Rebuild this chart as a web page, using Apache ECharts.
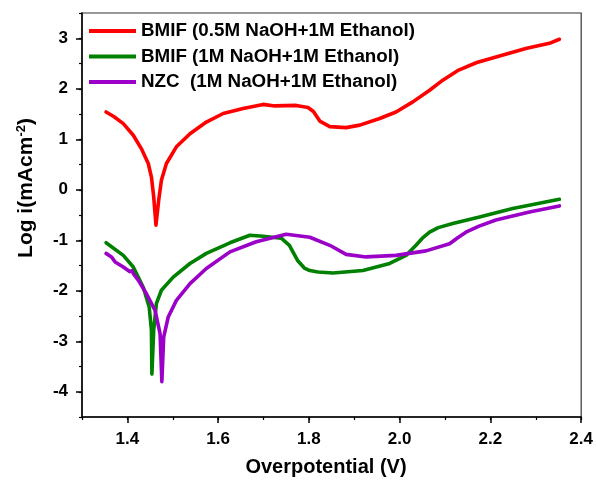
<!DOCTYPE html>
<html>
<head>
<meta charset="utf-8">
<script src="https://cdn.jsdelivr.net/npm/echarts@6/dist/echarts.min.js"></script>
<style>
html,body{margin:0;padding:0;background:#fff;}
#chart{width:596px;height:485px;}
</style>
</head>
<body>
<div id="chart"></div>
<script>
var seriesNames = ['BMIF (0.5M NaOH+1M Ethanol)', 'BMIF (1M NaOH+1M Ethanol)', 'NZC  (1M NaOH+1M Ethanol)'];
var xTickLabels = [1.4, 1.6, 1.8, 2.0, 2.2, 2.4];
var yTickLabels = [-4, -3, -2, -1, 0, 1, 2, 3];

var redX = [1.353,1.37,1.391,1.413,1.431,1.446,1.453,1.458,1.463,1.469,1.475,1.486,1.508,1.538,1.574,1.611,1.655,1.699,1.725,1.772,1.798,1.810,1.824,1.846,1.882,1.912,1.956,1.992,2.029,2.066,2.095,2.13,2.17,2.22,2.28,2.33,2.352];
var redY = [1.54,1.45,1.31,1.08,0.81,0.52,0.25,-0.14,-0.70,-0.21,0.19,0.52,0.85,1.11,1.34,1.51,1.61,1.69,1.66,1.67,1.63,1.55,1.36,1.25,1.23,1.28,1.41,1.54,1.74,1.97,2.17,2.37,2.52,2.65,2.80,2.90,2.98];

var greenX = [1.353,1.391,1.413,1.435,1.448,1.453,1.454,1.458,1.464,1.475,1.501,1.538,1.574,1.626,1.670,1.699,1.739,1.757,1.775,1.790,1.802,1.820,1.853,1.919,1.978,2.014,2.036,2.050,2.066,2.085,2.117,2.176,2.249,2.352];
var greenY = [-1.05,-1.30,-1.53,-1.93,-2.32,-2.78,-3.65,-2.78,-2.25,-1.99,-1.73,-1.46,-1.26,-1.05,-0.90,-0.92,-0.96,-1.10,-1.40,-1.55,-1.60,-1.63,-1.65,-1.60,-1.46,-1.30,-1.10,-0.96,-0.84,-0.75,-0.67,-0.54,-0.37,-0.19];

var purpleX = [1.353,1.365,1.373,1.391,1.405,1.410,1.413,1.424,1.442,1.461,1.472,1.476,1.480,1.490,1.508,1.538,1.574,1.626,1.684,1.750,1.802,1.846,1.882,1.926,1.992,2.058,2.110,2.128,2.146,2.175,2.212,2.286,2.352];
var purpleY = [-1.26,-1.33,-1.43,-1.53,-1.62,-1.60,-1.66,-1.79,-2.06,-2.39,-2.85,-3.80,-2.92,-2.52,-2.19,-1.86,-1.56,-1.23,-1.03,-0.88,-0.94,-1.10,-1.28,-1.33,-1.30,-1.21,-1.07,-0.95,-0.84,-0.72,-0.60,-0.44,-0.32];

var colors = ['#ff0000', '#008000', '#9b00c8'];

function zip(xs, ys) { return xs.map(function (x, i) { return [x, ys[i]]; }); }

var FONT = 'Liberation Sans, Arial, sans-serif';

var chart = echarts.init(document.getElementById('chart'));
var lineSeries = [zip(redX, redY), zip(greenX, greenY), zip(purpleX, purpleY)].map(function (d, i) {
  return {
    name: seriesNames[i],
    type: 'line',
    data: d,
    xAxisIndex: 0,
    yAxisIndex: 0,
    symbol: 'none',
    showSymbol: false,
    smooth: false,
    lineStyle: { color: colors[i], width: 3.6, cap: 'round', join: 'round' },
    itemStyle: { color: colors[i] },
    z: 3 + i
  };
});

var axisLineStyle = { show: true, onZero: false, lineStyle: { color: '#000', width: 1.5 } };

chart.setOption({
  animation: false,
  backgroundColor: '#fff',
  grid: { left: 82, right: 14, top: 13, bottom: 68, show: true, borderColor: '#333', borderWidth: 1.2, backgroundColor: 'transparent' },
  legend: {
    data: seriesNames,
    orient: 'vertical',
    left: 84,
    top: 16,
    icon: 'rect',
    itemWidth: 47,
    itemHeight: 4,
    itemGap: 5.5,
    textStyle: { fontFamily: FONT, fontSize: 18.8, fontWeight: 'bold', color: '#000', lineHeight: 20 }
  },
  xAxis: [{
    type: 'value', min: 1.3, max: 2.4, interval: 0.1, position: 'bottom',
    axisLine: axisLineStyle,
    axisTick: { show: true, length: 6, inside: false, customValues: xTickLabels, lineStyle: { color: '#000', width: 1.5 } },
    axisLabel: { customValues: xTickLabels, margin: 14, fontFamily: FONT, fontSize: 17, fontWeight: 'bold', color: '#000', formatter: function (v) { return (+v).toFixed(1); } },
    splitLine: { show: false }
  }, {
    type: 'value', min: 1.3, max: 2.4, interval: 0.1, position: 'bottom', offset: 0,
    axisLine: { show: false, onZero: false },
    axisTick: { show: true, length: 3, lineStyle: { color: '#000', width: 1.2 } },
    axisLabel: { show: false },
    splitLine: { show: false }
  }],
  yAxis: [{
    type: 'value', min: -4.5, max: 3.5, interval: 0.5, position: 'left',
    axisLine: axisLineStyle,
    axisTick: { show: true, length: 6, customValues: yTickLabels, lineStyle: { color: '#000', width: 1.5 } },
    axisLabel: { customValues: yTickLabels, margin: 14, fontFamily: FONT, fontSize: 17, fontWeight: 'bold', color: '#000' },
    splitLine: { show: false }
  }, {
    type: 'value', min: -4.5, max: 3.5, interval: 0.5, position: 'left', offset: 0,
    axisLine: { show: false, onZero: false },
    axisTick: { show: true, length: 3, lineStyle: { color: '#000', width: 1.2 } },
    axisLabel: { show: false },
    splitLine: { show: false }
  }],
  graphic: [{
    type: 'text', x: 326, y: 467,
    style: { text: 'Overpotential (V)', align: 'center', verticalAlign: 'middle', fontFamily: FONT, fontSize: 20, fontWeight: 'bold', fill: '#000' }
  }, {
    type: 'text', x: 26, y: 188, rotation: Math.PI / 2,
    style: {
      text: '{a|Log i(mAcm}{s|-2}{a|)}',
      align: 'center', verticalAlign: 'middle',
      rich: {
        a: { fontFamily: FONT, fontSize: 21, fontWeight: 'bold', fill: '#000' },
        s: { fontFamily: FONT, fontSize: 13, fontWeight: 'bold', fill: '#000', verticalAlign: 'top', padding: [0, 0, 10, 0] }
      }
    }
  }],
  series: lineSeries
});
</script>
</body>
</html>
